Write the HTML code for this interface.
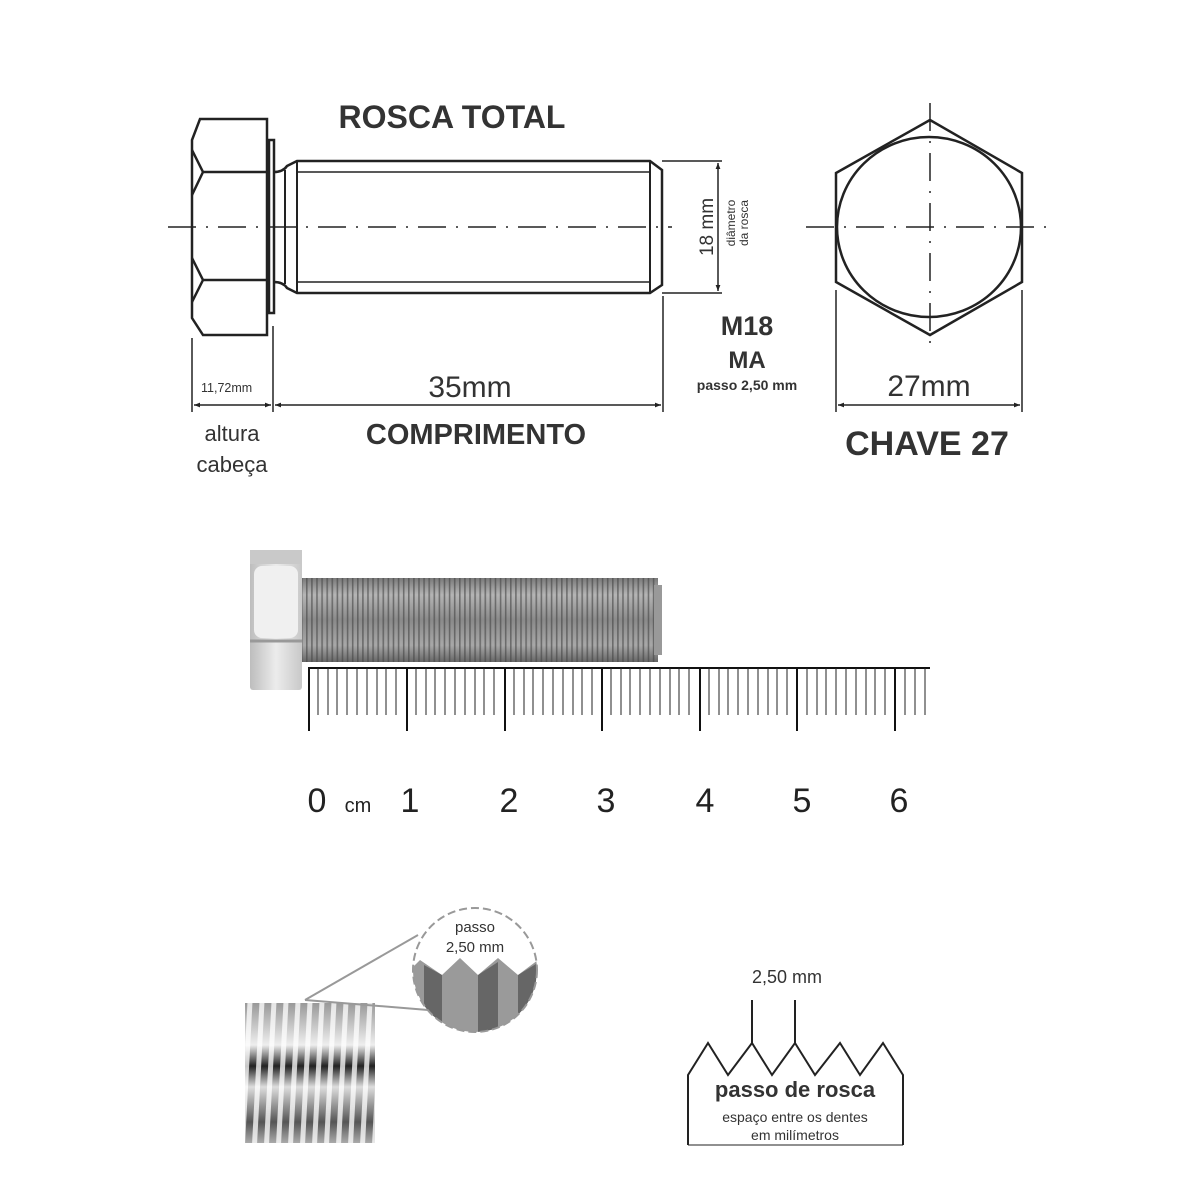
<!DOCTYPE html>
<html><head><meta charset="utf-8"><style>
html,body{margin:0;padding:0;background:#fff}
svg{display:block}
text{font-family:"Liberation Sans",sans-serif;fill:#333}
</style></head><body>
<svg width="1200" height="1200" viewBox="0 0 1200 1200" xmlns="http://www.w3.org/2000/svg">
<defs>
<marker id="a" viewBox="0 0 10 10" refX="10" refY="5" markerWidth="14" markerHeight="6" orient="auto-start-reverse" markerUnits="userSpaceOnUse"><path d="M0,1 L10,5 L0,9 Z" fill="#222"/></marker>
<linearGradient id="sh" x1="0" y1="0" x2="0" y2="1">
<stop offset="0" stop-color="#7a7a7a"/><stop offset="0.2" stop-color="#b5b5b5"/><stop offset="0.5" stop-color="#8a8a8a"/><stop offset="0.8" stop-color="#a8a8a8"/><stop offset="1" stop-color="#666"/></linearGradient>
<pattern id="th" width="5.1" height="100" patternUnits="userSpaceOnUse"><rect x="0" width="1.6" height="100" fill="#444" opacity="0.6"/></pattern>
<linearGradient id="hd" x1="0" y1="0" x2="1" y2="0"><stop offset="0" stop-color="#bdbdbd"/><stop offset="0.5" stop-color="#ececec"/><stop offset="1" stop-color="#c8c8c8"/></linearGradient>
<linearGradient id="bt" x1="0" y1="0" x2="0" y2="1"><stop offset="0" stop-color="#999"/><stop offset="0.3" stop-color="#eee"/><stop offset="0.45" stop-color="#222"/><stop offset="0.6" stop-color="#ddd"/><stop offset="0.85" stop-color="#555"/><stop offset="1" stop-color="#aaa"/></linearGradient>
<pattern id="bs" width="12" height="200" patternUnits="userSpaceOnUse" patternTransform="skewX(-3)"><rect x="0" width="5" height="200" fill="#fff" opacity="0.75"/></pattern>
<clipPath id="cc"><circle cx="475" cy="970" r="62"/></clipPath>
</defs>

<g fill="none" stroke="#222" stroke-width="2.5">
<path d="M200,119 L267,119 L267,335 L203,335 L192,318 L192,140 Z"/>
<path d="M192,150 L203,172 L267,172 M203,172 L192,195 M192,258 L203,280 L267,280 M203,280 L192,302"/>
<rect x="269" y="140" width="5" height="173"/>
<path d="M274,172 Q283,172 287,166 L297,161 L650,161 L662,170 L662,285 L650,293 L297,293 L287,288 Q283,282 274,282"/>
<path d="M285,170 L285,284 M297,161 L297,293 M650,161 L650,293" stroke-width="2"/>
<path d="M297,172 L650,172 M297,282 L650,282" stroke-width="1.5"/>
</g>
<line x1="168" y1="227" x2="672" y2="227" stroke="#222" stroke-width="1.5" stroke-dasharray="28,10,2,10"/>
<g stroke="#222" stroke-width="1.5" fill="none">
<line x1="662" y1="161" x2="722" y2="161"/><line x1="662" y1="293" x2="722" y2="293"/>
<line x1="718" y1="163" x2="718" y2="291" marker-start="url(#a)" marker-end="url(#a)"/>
<line x1="192" y1="338" x2="192" y2="412"/><line x1="273" y1="326" x2="273" y2="412"/><line x1="663" y1="296" x2="663" y2="412"/>
<line x1="194" y1="405" x2="271" y2="405" marker-start="url(#a)" marker-end="url(#a)"/>
<line x1="275" y1="405" x2="661" y2="405" marker-start="url(#a)" marker-end="url(#a)"/>
<line x1="836" y1="290" x2="836" y2="412"/><line x1="1022" y1="290" x2="1022" y2="412"/>
<line x1="838" y1="405" x2="1020" y2="405" marker-start="url(#a)" marker-end="url(#a)"/>
</g>
<g fill="none" stroke="#222" stroke-width="2.5">
<polygon points="930,120 1022,173 1022,282 930,335 836,282 836,173"/>
<ellipse cx="929" cy="227" rx="92" ry="90"/>
</g>
<g stroke="#222" stroke-width="1.5">
<line x1="806" y1="227" x2="1055" y2="227" stroke-dasharray="28,10,2,10"/>
<line x1="930" y1="103" x2="930" y2="350" stroke-dasharray="28,10,2,10"/>
</g>

<text x="452" y="128" font-size="32" font-weight="bold" text-anchor="middle">ROSCA TOTAL</text>
<text x="201" y="392" font-size="12.5">11,72mm</text>
<text x="470" y="397" font-size="30" text-anchor="middle">35mm</text>
<text x="476" y="444" font-size="29" font-weight="bold" text-anchor="middle">COMPRIMENTO</text>
<text x="232" y="441" font-size="22" text-anchor="middle">altura</text>
<text x="232" y="472" font-size="22" text-anchor="middle">cabeça</text>
<text transform="translate(713,227) rotate(-90)" font-size="19" text-anchor="middle">18 mm</text>
<text transform="translate(735,223) rotate(-90)" font-size="12" text-anchor="middle">diâmetro</text>
<text transform="translate(748,223) rotate(-90)" font-size="12" text-anchor="middle">da rosca</text>
<text x="747" y="335" font-size="27" font-weight="bold" text-anchor="middle">M18</text>
<text x="747" y="368" font-size="24" font-weight="bold" text-anchor="middle">MA</text>
<text x="747" y="390" font-size="14" font-weight="bold" text-anchor="middle">passo 2,50 mm</text>
<text x="929" y="396" font-size="30" text-anchor="middle">27mm</text>
<text x="927" y="455" font-size="34" font-weight="bold" text-anchor="middle">CHAVE 27</text>

<rect x="250" y="550" width="52" height="140" rx="3" fill="url(#hd)"/>
<rect x="250" y="550" width="52" height="14" fill="#c9c9c9"/>
<rect x="254" y="566" width="44" height="72" rx="8" fill="#f0f0f0"/>
<line x1="250" y1="641" x2="302" y2="641" stroke="#999" stroke-width="3"/>
<rect x="302" y="578" width="356" height="84" fill="url(#sh)"/>
<rect x="302" y="578" width="356" height="84" fill="url(#th)"/>
<rect x="654" y="585" width="8" height="70" fill="#999"/>
<line x1="308" y1="668" x2="930" y2="668" stroke="#111" stroke-width="2"/>
<g stroke="#222" stroke-width="1">
<path id="ticks" d="M318,668v47 M328,668v47 M337,668v47 M347,668v47 M357,668v47 M367,668v47 M377,668v47 M386,668v47 M396,668v47"/>
<use href="#ticks" x="98"/><use href="#ticks" x="196"/><use href="#ticks" x="293"/><use href="#ticks" x="391"/><use href="#ticks" x="489"/>
<path d="M905,668v47 M915,668v47 M925,668v47"/>
</g>
<g stroke="#111" stroke-width="2">
<line x1="309" y1="668" x2="309" y2="731"/><line x1="407" y1="668" x2="407" y2="731"/><line x1="505" y1="668" x2="505" y2="731"/><line x1="602" y1="668" x2="602" y2="731"/><line x1="700" y1="668" x2="700" y2="731"/><line x1="797" y1="668" x2="797" y2="731"/><line x1="895" y1="668" x2="895" y2="731"/>
</g>
<g font-size="34">
<text x="317" y="812" text-anchor="middle" style="fill:#222">0</text>
<text x="358" y="812" font-size="20" text-anchor="middle" style="fill:#222">cm</text>
<text x="410" y="812" text-anchor="middle" style="fill:#222">1</text>
<text x="509" y="812" text-anchor="middle" style="fill:#222">2</text>
<text x="606" y="812" text-anchor="middle" style="fill:#222">3</text>
<text x="705" y="812" text-anchor="middle" style="fill:#222">4</text>
<text x="802" y="812" text-anchor="middle" style="fill:#222">5</text>
<text x="899" y="812" text-anchor="middle" style="fill:#222">6</text>
</g>

<rect x="245" y="1003" width="130" height="140" fill="url(#bt)"/>
<rect x="245" y="1003" width="130" height="140" fill="url(#bs)"/>
<line x1="305" y1="1000" x2="418" y2="935" stroke="#999" stroke-width="2"/>
<line x1="305" y1="1000" x2="428" y2="1010" stroke="#999" stroke-width="2"/>
<g clip-path="url(#cc)">
<rect x="410" y="905" width="130" height="130" fill="#fff"/>
<path d="M410,970 L420,960 L442,975 L460,958 L478,975 L498,958 L518,975 L538,960 L540,1035 L410,1035 Z" fill="#9a9a9a"/>
<path d="M424,965 L442,975 L442,1035 L424,1035 Z M478,975 L498,962 L498,1035 L478,1035Z M518,975 L536,964 L536,1035 L518,1035Z" fill="#666"/>
</g>
<circle cx="475" cy="970" r="62" fill="none" stroke="#999" stroke-width="2" stroke-dasharray="8,4"/>
<text x="475" y="932" font-size="15" text-anchor="middle">passo</text>
<text x="475" y="952" font-size="15" text-anchor="middle">2,50 mm</text>

<path d="M688,1145 L688,1075 L708,1043 L728,1075 L752,1043 L772,1075 L795,1043 L815,1075 L840,1043 L860,1075 L883,1043 L903,1075 L903,1145" fill="none" stroke="#222" stroke-width="2"/>
<line x1="688" y1="1145" x2="903" y2="1145" stroke="#222" stroke-width="1"/>
<line x1="752" y1="1000" x2="752" y2="1043" stroke="#222" stroke-width="2"/>
<line x1="795" y1="1000" x2="795" y2="1043" stroke="#222" stroke-width="2"/>
<text x="787" y="983" font-size="18" text-anchor="middle">2,50 mm</text>
<text x="795" y="1097" font-size="22" font-weight="bold" text-anchor="middle">passo de rosca</text>
<text x="795" y="1122" font-size="14" text-anchor="middle">espaço entre os dentes</text>
<text x="795" y="1140" font-size="14" text-anchor="middle">em milímetros</text>
</svg>
</body></html>
